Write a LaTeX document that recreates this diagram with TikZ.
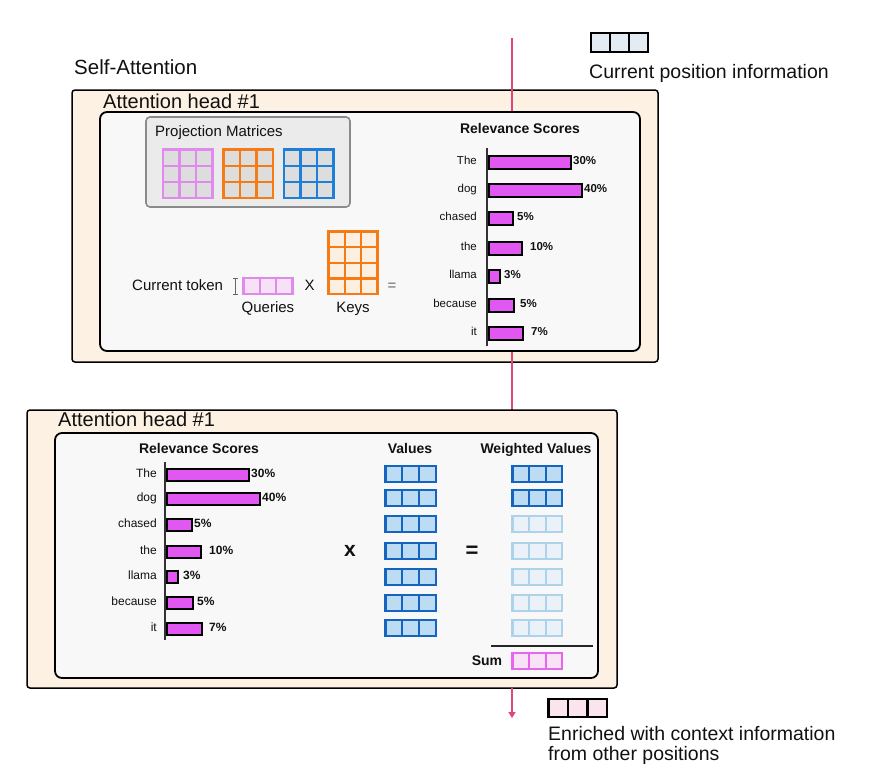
\documentclass[tikz,border=0pt]{standalone}
\usepackage{fontspec}
\setmainfont{Liberation Sans}
\usetikzlibrary{arrows.meta}
\definecolor{peach}{HTML}{FDF1E3}
\definecolor{innerfill}{HTML}{F8F8F8}
\definecolor{projfill}{HTML}{EBEBEB}
\definecolor{projline}{HTML}{8A8A8A}
\definecolor{cellgray}{HTML}{DDDDDD}
\definecolor{qpink}{HTML}{E08AEE}
\definecolor{qfill}{HTML}{F6E1F6}
\definecolor{korange}{HTML}{F47B16}
\definecolor{kfill}{HTML}{FDF0E0}
\definecolor{vblue}{HTML}{1E7FD8}
\definecolor{valline}{HTML}{1565C0}
\definecolor{valfill}{HTML}{BBDCF2}
\definecolor{wline}{HTML}{ADD3EA}
\definecolor{wfill}{HTML}{EAF1F8}
\definecolor{barfill}{HTML}{E157F2}
\definecolor{arrowpink}{HTML}{E2457E}
\definecolor{sumline}{HTML}{E866EE}
\definecolor{sumfill}{HTML}{F7E3F5}
\definecolor{cpfill}{HTML}{E3EBF3}
\definecolor{enfill}{HTML}{FCE4EE}
\definecolor{txt}{HTML}{111111}
\newcommand\fsz[1]{\fontsize{#1}{#1}\selectfont}
% name, x, y (top-left), cols, rows, cellw, cellh, line colour, fill
\newcommand\gridbox[9]{%
  \foreach \c in {1,...,#4}{\foreach \r in {1,...,#5}{%
    \draw[draw=#8, fill=#9, line width=2.3pt]
      ({#2+(\c-1)*#6},{#3+(\r-1)*#7}) rectangle ++(#6,#7);}}%
  \node[inner sep=0pt, outer sep=0pt, minimum width={#4*#6}, minimum height={#5*#7},
        anchor=north west] (#1) at (#2,#3) {};}
\tikzset{
  outerbox/.style={draw=black, fill=peach, line width=1.5pt, rounded corners=3pt,
    inner sep=0pt, outer sep=0pt, anchor=north west},
  innerbox/.style={draw=black, fill=innerfill, line width=1.8pt, rounded corners=7pt,
    inner sep=0pt, outer sep=0pt, anchor=north west},
  projbox/.style={draw=projline, fill=projfill, line width=1.6pt, rounded corners=4pt,
    inner sep=0pt, outer sep=0pt, anchor=north west},
  bigtext/.style={font=\fsz{19.5}, text=txt, inner sep=0pt},
  headtext/.style={font=\fsz{20}, text=txt, inner sep=0pt, anchor=base west},
  midtext/.style={font=\fsz{15}, text=txt, inner sep=0pt},
  boldhead/.style={font=\fsz{14}\bfseries, text=txt, inner sep=0pt, anchor=base},
  blabel/.style={font=\fsz{11.5}, text=txt, inner sep=0pt, anchor=east,
    text height=8pt, text depth=2.5pt},
  pct/.style={font=\fsz{11.5}\bfseries, text=txt, inner sep=0pt, anchor=west,
    text height=8pt, text depth=2.5pt},
  bar/.style={draw=black, fill=barfill, line width=2pt, inner sep=0pt, outer sep=0pt,
    anchor=west},
  axisline/.style={draw=black!80, line width=1.6pt},
  pinkline/.style={draw=arrowpink, line width=1.6pt},
}
\begin{document}
\begin{tikzpicture}[x=1pt, y=-1pt]
\useasboundingbox (0,0) rectangle (886,777);

% ---------- top legend ----------
\coordinate (ptop) at (512,38);
\gridbox{cpvec}{591}{33}{3}{1}{19}{19}{black}{cpfill}
\node[bigtext, anchor=base west] (cptext) at (589,78) {Current position information};
\node[bigtext, font=\fsz{20.5}, anchor=base west] (selfatt) at (74,74) {Self-Attention};

% ---------- upper attention head ----------
\node[outerbox, minimum width=586, minimum height=272] (upouter) at (72,90) {};
\node[headtext] (uphead) at (103,108) {Attention head \#1};
\node[outerbox, draw=none, fill=none, minimum width=586, minimum height=320] (lowguide) at (27,410) {};
\draw[pinkline] (ptop) -- (ptop |- lowguide.north);
\node[innerbox, minimum width=540, minimum height=239] (upinner) at (100,112) {};

% projection matrices
\node[projbox, minimum width=204, minimum height=90] (proj) at (146,117) {};
\node[midtext, anchor=base west] (projtext) at (155,136) {Projection Matrices};
\gridbox{wq}{163}{149.5}{3}{3}{16.5}{16.2}{qpink}{cellgray}
\gridbox{wk}{223.5}{149.5}{3}{3}{16.5}{16.2}{korange}{cellgray}
\gridbox{wv}{284}{149.5}{3}{3}{16.5}{16.2}{vblue}{cellgray}

% current token x keys
\node[midtext, anchor=base west] (curtok) at (132,290) {Current token};
\coordinate (ibtop) at (235.5,278);
\coordinate (ibbot) at (235.5,294);
\draw[black!60, line width=1pt] (ibtop) -- (ibbot)
  (ibtop) ++(-2.5,0) -- ++(5,0) (ibbot) ++(-2.5,0) -- ++(5,0);
\gridbox{qvec}{243.5}{278}{3}{1}{16.3}{16}{qpink}{qfill}
\node[midtext, anchor=base] (qlab) at (qvec.south |- 0,312) {Queries};
\node[midtext, anchor=base] (xsign) at (309.5,290) {X};
\gridbox{kmat}{328.5}{231.5}{3}{4}{16.3}{15.7}{korange}{kfill}
\node[midtext, anchor=base] (klab) at (kmat.south |- 0,312) {Keys};
\node[midtext, anchor=base, text=black!60] (eqsign) at (392,290) {=};

% upper relevance scores
\node[boldhead] (uprel) at (520,133) {Relevance Scores};
\coordinate (uaxtop) at (487,148);
\coordinate (uaxbot) at (487,346);
\draw[axisline] (uaxtop) -- (uaxbot);
\foreach \n/\y/\r/\w/\p/\px in {1/162/571/The/30/573, 2/190/582/dog/40/584,
  3/218/513/chased/5/517, 4/248/522/the/10/530, 5/276/500/llama/3/504,
  6/305/514/because/5/520, 7/333/523/it/7/531}{
  \node[bar, minimum width={\r-489}, minimum height=13] (ub\n) at (489,\y) {};
  \node[blabel] (ul\n) at (477,\y) {\w};
  \node[pct] (up\n) at (\px,\y) {\p\%};
}

% ---------- lower attention head ----------
\node[outerbox, minimum width=590, minimum height=278] (lowouter) at (27,410) {};
\node[headtext] (lowhead) at (58,426) {Attention head \#1};
\node[innerbox, minimum width=543, minimum height=245] (lowinner) at (55,433) {};

\node[boldhead] (lowrel) at (199,453) {Relevance Scores};
\node[boldhead] (vallab) at (410,453) {Values};
\node[boldhead] (wvlab) at (536,453) {Weighted Values};
\coordinate (laxtop) at (165,462);
\coordinate (laxbot) at (165,640);
\draw[axisline] (laxtop) -- (laxbot);
\foreach \n/\y/\r/\w/\p/\px in {1/475/249/The/30/251, 2/499/260/dog/40/262,
  3/525/192/chased/5/194, 4/552/201/the/10/209, 5/577/178/llama/3/183,
  6/603/193/because/5/197, 7/629/202/it/7/209}{
  \node[bar, minimum width={\r-167}, minimum height=12] (lb\n) at (167,\y) {};
  \node[blabel, font=\fsz{12}] (ll\n) at (157,\y) {\w};
  \node[pct, font=\fsz{12}\bfseries] (lp\n) at (\px,\y) {\p\%};
}
\foreach \n/\y in {1/466, 2/490, 3/516, 4/543, 5/569, 6/595, 7/620}{
  \gridbox{val\n}{385.5}{\y}{3}{1}{16.8}{16}{valline}{valfill}
}
\foreach \n/\y in {1/466, 2/490}{
  \gridbox{wv\n}{512.5}{\y}{3}{1}{16.6}{16}{valline}{valfill}
}
\foreach \n/\y in {3/516, 4/543, 5/569, 6/595, 7/620}{
  \gridbox{wv\n}{512.5}{\y}{3}{1}{16.6}{16}{wline}{wfill}
}
\node[font=\fsz{21}\bfseries, text=txt, inner sep=0pt] (xlow) at (350,551) {x};
\node[font=\fsz{22}\bfseries, text=txt, inner sep=0pt] (eqlow) at (472,552) {=};
\coordinate (sumL) at (491,646);
\coordinate (sumR) at (593,646);
\draw[black!85, line width=1.5pt] (sumL) -- (sumR);
\node[boldhead] (sumlab) at (487,665) {Sum};
\gridbox{sumvec}{512.5}{653}{3}{1}{16.6}{16}{sumline}{sumfill}

% ---------- output ----------
\coordinate (pend) at (512,718);
\draw[pinkline, -{Triangle[width=7pt,length=6pt]}] (ptop |- lowouter.south) -- (pend);
\gridbox{envec}{548.5}{699}{3}{1}{19.5}{18}{black}{enfill}
\node[bigtext, anchor=base west] (entext1) at (548,740) {Enriched with context information};
\node[bigtext, anchor=base west] (entext2) at (548,760) {from other positions};
\end{tikzpicture}
\end{document}
